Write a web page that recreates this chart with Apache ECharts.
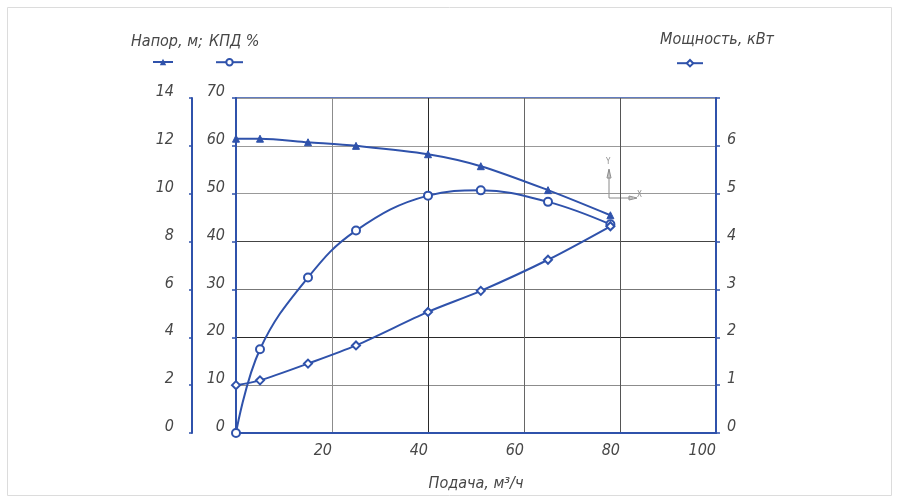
<!DOCTYPE html>
<html>
<head>
<meta charset="utf-8">
<script src="https://cdn.jsdelivr.net/npm/echarts@6/dist/echarts.min.js"></script>
<style>
html,body{margin:0;padding:0;background:#fff;}
#chart{width:899px;height:503px;}
</style>
</head>
<body>
<div id="chart"></div>
<script>
// ---- data ----
const flow = [0, 5, 15, 25, 40, 51, 65, 78];              // Подача, м³/ч
const head = [12.3, 12.3, 12.15, 12.0, 11.65, 11.15, 10.15, 9.1];   // Напор, м
const efficiency = [0, 17.5, 32.5, 42.3, 49.6, 50.7, 48.3, 43.6];   // КПД, %
const power = [1.0, 1.1, 1.45, 1.83, 2.53, 2.97, 3.62, 4.32];       // Мощность, кВт
const xTicks = [0, 20, 40, 60, 80, 100];
const headTicks = [0, 2, 4, 6, 8, 10, 12, 14];
const effTicks = [0, 10, 20, 30, 40, 50, 60, 70];
const powerTicks = [0, 1, 2, 3, 4, 5, 6];
const names = ['Напор, м;', 'КПД %', 'Мощность, кВт'];
const xName = 'Подача, м³/ч';

const BLUE = '#2f52ab';
const TXT = '#474747';
const FONT = "'DejaVu Sans Condensed','Liberation Sans Narrow','DejaVu Sans',sans-serif";
const lbl = {fontFamily: FONT, fontStyle: 'italic', fontSize: 16, color: TXT};
const yLbl = (extra) => Object.assign({}, lbl, {verticalAlign: 'bottom', lineHeight: 12}, extra);

const pairs = (ys) => flow.map((q, i) => [q, ys[i]]);

const chart = echarts.init(document.getElementById('chart'), null, {renderer: 'canvas'});
chart.setOption({
  animation: false,
  backgroundColor: '#fff',
  grid: {left: 236, right: 183, top: 98, bottom: 70, show: true, borderColor: BLUE, borderWidth: 1.5, backgroundColor: 'transparent'},
  legend: [
    {data: [names[0]], left: 152, top: 58, padding: 0, itemWidth: 20, itemHeight: 8, formatter: () => '', selectedMode: false},
    {data: [names[1]], left: 215, top: 58, padding: 0, itemWidth: 27, itemHeight: 8, formatter: () => '', selectedMode: false},
    {data: [names[2]], left: 676, top: 59, padding: 0, itemWidth: 26, itemHeight: 8, formatter: () => '', selectedMode: false}
  ],
  xAxis: {
    type: 'value', min: xTicks[0], max: xTicks[xTicks.length - 1], interval: 20,
    axisLine: {show: true, lineStyle: {color: BLUE, width: 2}},
    axisTick: {show: false},
    axisLabel: Object.assign({}, lbl, {margin: 10, align: 'right',
      formatter: v => v === 0 ? '' : String(v)}),
    splitLine: {show: true, showMinLine: true, showMaxLine: true,
      lineStyle: {width: 1, color: ['#999', '#8c8c8c', '#2a2a2a', '#666', '#555', '#999']}},
    name: xName, nameLocation: 'middle', nameGap: 43,
    nameTextStyle: Object.assign({}, lbl, {fontSize: 16})
  },
  yAxis: [
    {
      type: 'value', position: 'left', min: effTicks[0], max: effTicks[effTicks.length - 1], interval: 10,
      axisLine: {show: true, lineStyle: {color: BLUE, width: 2}},
      axisTick: {show: true, length: 4, lineStyle: {color: BLUE, width: 1.5}},
      axisLabel: yLbl({margin: 11}),
      splitLine: {show: true, showMinLine: true, showMaxLine: true,
        lineStyle: {width: 1, color: ['#999', '#8c8c8c', '#2a2a2a', '#777', '#444', '#999', '#999', '#999']}}
    },
    {
      type: 'value', position: 'left', offset: 44, min: headTicks[0], max: headTicks[headTicks.length - 1], interval: 2,
      axisLine: {show: true, lineStyle: {color: BLUE, width: 2}},
      axisTick: {show: true, length: 3, lineStyle: {color: BLUE, width: 1.5}},
      axisLabel: yLbl({margin: 18}),
      splitLine: {show: false}
    },
    {
      type: 'value', position: 'right', min: 0, max: 7, interval: 1,
      axisLine: {show: true, lineStyle: {color: BLUE, width: 2}},
      axisTick: {show: true, length: 4, lineStyle: {color: BLUE, width: 1.5}},
      axisLabel: yLbl({margin: 11, formatter: v => powerTicks.indexOf(v) >= 0 ? String(v) : ''}),
      splitLine: {show: false}
    }
  ],
  series: [
    {
      name: names[0], type: 'line', yAxisIndex: 1, data: pairs(head), smooth: 0.3,
      symbol: 'triangle', symbolSize: 7, showSymbol: true,
      lineStyle: {color: BLUE, width: 2}, itemStyle: {color: BLUE, borderColor: BLUE}
    },
    {
      name: names[1], type: 'line', yAxisIndex: 0, data: pairs(efficiency), smooth: 0.4,
      symbol: 'emptyCircle', symbolSize: 8,
      lineStyle: {color: BLUE, width: 2}, itemStyle: {color: BLUE, borderColor: BLUE, borderWidth: 1.6}
    },
    {
      name: names[2], type: 'line', yAxisIndex: 2, data: pairs(power), smooth: 0.3,
      symbol: 'emptyDiamond', symbolSize: 8,
      lineStyle: {color: BLUE, width: 2}, itemStyle: {color: BLUE, borderColor: BLUE, borderWidth: 1.6}
    }
  ],
  graphic: [
    {type: 'rect', shape: {x: 7.5, y: 7.5, width: 884, height: 488}, style: {fill: 'none', stroke: '#dcdcdc', lineWidth: 1}, silent: true, z: -1},
    {type: 'text', left: 131, top: 34, style: {text: names[0], font: "italic 16px " + FONT, fill: TXT}},
    {type: 'text', left: 209, top: 34, style: {text: names[1], font: "italic 16px " + FONT, fill: TXT}},
    {type: 'text', left: 660, top: 32, style: {text: names[2], font: "italic 16px " + FONT, fill: TXT}},
    // small CAD coordinate glyph
    {type: 'polyline', shape: {points: [[609, 170], [609, 198], [633, 198]]}, style: {stroke: '#8a8a8a', lineWidth: 1, fill: 'none'}, silent: true},
    {type: 'polygon', shape: {points: [[607, 178], [611, 178], [609, 169]]}, style: {stroke: '#8a8a8a', lineWidth: 1, fill: 'none'}, silent: true},
    {type: 'polygon', shape: {points: [[629, 196], [629, 200], [637, 198]]}, style: {stroke: '#8a8a8a', lineWidth: 1, fill: 'none'}, silent: true},
    {type: 'text', left: 606, top: 158, style: {text: 'Y', font: "8px " + FONT, fill: '#8a8a8a'}},
    {type: 'text', left: 637, top: 191, style: {text: 'X', font: "8px " + FONT, fill: '#8a8a8a'}}
  ]
});
</script>
</body>
</html>
